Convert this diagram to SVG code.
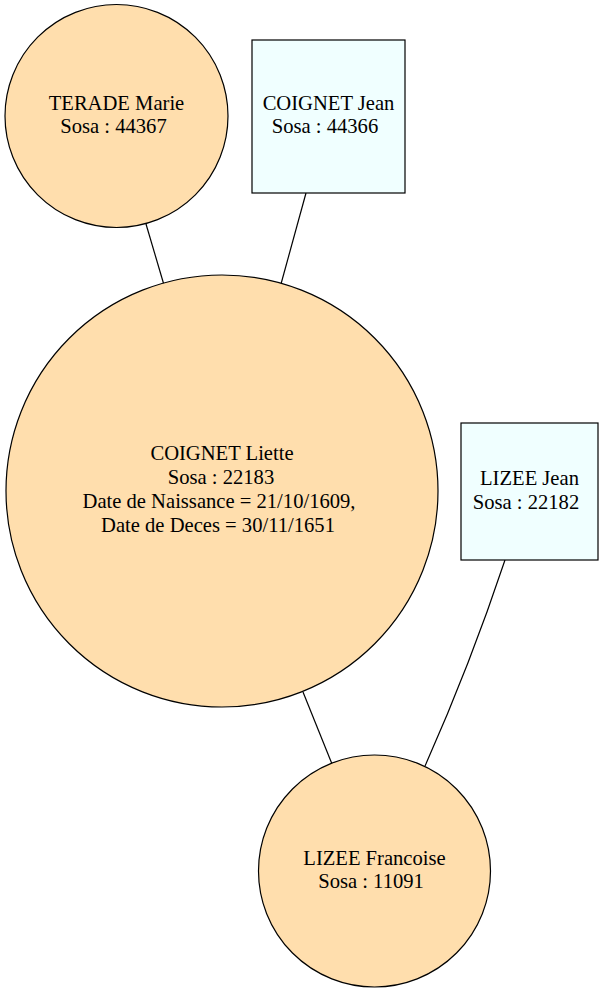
<svg xmlns="http://www.w3.org/2000/svg" width="604" height="993" viewBox="0 0 604 993">
<style>
.f{fill:#ffdead;stroke:#000;stroke-width:1.2}
.m{fill:#f0ffff;stroke:#000;stroke-width:1.2}
.e{fill:none;stroke:#000;stroke-width:1.2}
text{font-family:"Liberation Serif","Times New Roman",serif;font-size:20.6px;text-anchor:middle;fill:#000}
</style>
<rect width="604" height="993" fill="#fff"/>
<g id="edges">
<path class="e" d="M146,224 L164,285"/>
<path class="e" d="M306,193 L281,284"/>
<path class="e" d="M303,692 L332,764"/>
<path class="e" d="M505,560 Q470,665 425,766"/>
</g>
<g id="terade_marie">
<circle class="f" cx="116.5" cy="116" r="111.5"/>
<text x="116.5" y="110">TERADE Marie</text>
<text x="113.5" y="133">Sosa : 44367</text>
</g>
<g id="coignet_jean">
<rect class="m" x="252" y="40" width="153" height="153"/>
<text x="328.5" y="110">COIGNET Jean</text>
<text x="325" y="133">Sosa : 44366</text>
</g>
<g id="coignet_liette">
<circle class="f" cx="222" cy="491" r="216"/>
<text x="222" y="460">COIGNET Liette</text>
<text x="221" y="484">Sosa : 22183</text>
<text x="219" y="508">Date de Naissance = 21/10/1609,</text>
<text x="218" y="532">Date de Deces = 30/11/1651</text>
</g>
<g id="lizee_jean">
<rect class="m" x="461" y="423" width="137" height="137"/>
<text x="529.5" y="485">LIZEE Jean</text>
<text x="526" y="509">Sosa : 22182</text>
</g>
<g id="lizee_francoise">
<circle class="f" cx="374.5" cy="871" r="116"/>
<text x="374.5" y="865">LIZEE Francoise</text>
<text x="371" y="888">Sosa : 11091</text>
</g>
</svg>
